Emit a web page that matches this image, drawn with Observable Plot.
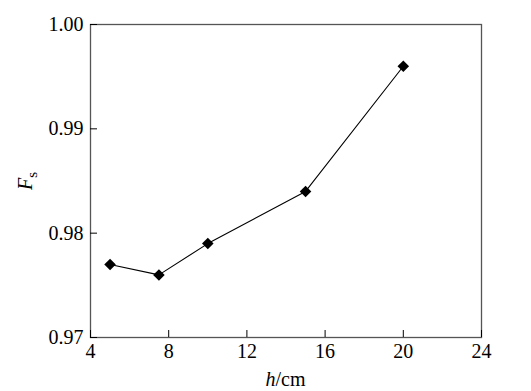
<!DOCTYPE html>
<html>
<head>
<meta charset="utf-8">
<script src="https://cdn.jsdelivr.net/npm/d3@7"></script>
<script src="https://cdn.jsdelivr.net/npm/@observablehq/plot@0.6"></script>
<style>
  html, body { margin: 0; padding: 0; background: #fff; }
  #chart svg { display: block; }
  #chart svg, #chart svg text { font-family: "Liberation Serif", Tinos, "Times New Roman", Times, serif !important; }
</style>
</head>
<body>
<div id="chart"></div>
<script>
const hValues = [5, 7.5, 10, 15, 20];
const fsValues = [0.977, 0.976, 0.979, 0.984, 0.996];
const xTicks = [4, 8, 12, 16, 20, 24];
const yTicks = [0.97, 0.98, 0.99, 1.00];

const data = hValues.map((h, i) => ({h, fs: fsValues[i]}));

const chart = Plot.plot({
  width: 531,
  height: 391,
  marginLeft: 90,
  marginRight: 50,
  marginTop: 24,
  marginBottom: 54,
  style: {fontSize: "20px", color: "#000", background: "#fff"},
  x: {domain: [4, 24]},
  y: {domain: [0.97, 1.0]},
  marks: [
    Plot.frame({stroke: "#555", strokeWidth: 1.3}),
    Plot.axisX({ticks: xTicks, tickSize: -7, tickPadding: 13, tickFormat: d => String(d), label: null, fontSize: 20}),
    Plot.axisY({ticks: yTicks, tickSize: -7, tickPadding: 14, tickFormat: d => d.toFixed(2), label: null, fontSize: 20}),
    Plot.line(data, {x: "h", y: "fs", stroke: "#000", strokeWidth: 1.1}),
    Plot.dot(data, {x: "h", y: "fs", symbol: "diamond2", r: 5.2, fill: "#000", stroke: "none"})
  ]
});

const svg = d3.select(chart);
svg.append("text")
  .attr("x", (90 + 481) / 2)
  .attr("y", 386)
  .attr("text-anchor", "middle")
  .attr("font-size", 20)
  .call(t => {
    t.append("tspan").attr("font-style", "italic").text("h");
    t.append("tspan").text("/cm");
  });
svg.append("text")
  .attr("transform", "translate(32,181) rotate(-90)")
  .attr("text-anchor", "middle")
  .attr("font-size", 20)
  .call(t => {
    t.append("tspan").attr("font-style", "italic").text("F");
    t.append("tspan").attr("font-size", 15).attr("dy", 5).text("s");
  });

document.getElementById("chart").appendChild(chart);
</script>
</body>
</html>
